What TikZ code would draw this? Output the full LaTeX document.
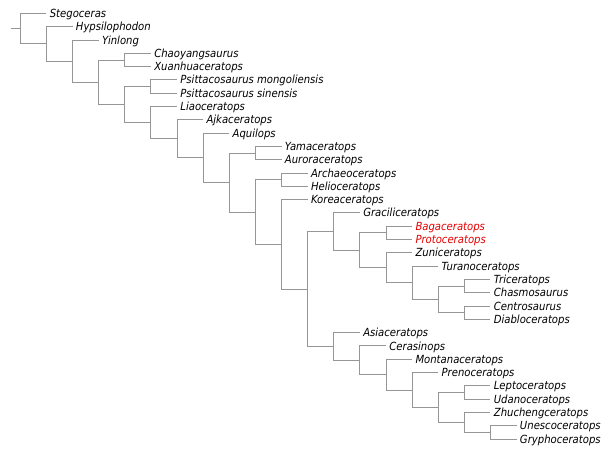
\documentclass[tikz,border=0pt]{standalone}
\usepackage{fontspec}
\newfontfamily\cladefont{DejaVu Sans Condensed Oblique}
\definecolor{branchc}{RGB}{150,150,150}
\definecolor{hilite}{RGB}{230,0,0}
\begin{document}
\begin{tikzpicture}[x=1pt,y=-1pt,
  declare function={cx(\d)=20.3+26.12*\d; cy(\r)=13.4+13.3*\r;},
  br/.style={draw=branchc, line width=0.85pt},
  taxon/.style={anchor=base west, inner sep=0pt, xshift=3.2pt, yshift=-4.1pt,
    font=\cladefont\fontsize{11.2}{13}\selectfont},
  hot/.style={text=hilite}]
\useasboundingbox (0,0) rectangle (610,454);
% internal nodes
\foreach \n/\d/\r in {root/0/1.1473, n1/1/2.294651, n2/2/3.589302, n3/3/5.178604,
  cx/4/3.5, n4/4/6.857208, ps/5/5.5, n5/5/8.2144165, n6/6/9.428833, n7/7/10.857666,
  n8/8/12.715332, ya/9/10.5, n9/9/14.930664, ah/10/12.5, n10/10/17.361328,
  n11/11/20.72265625, n12/12/16.40625, n14/13/17.8125, bp/14/16.5, n15/14/19.125,
  n16/15/20.25, n17/16/21.5, tc/17/20.5, cd/17/22.5, n13/12/25.0390625,
  n18/13/26.078125, n19/14/27.15625, n20/15/28.3125, n21/16/29.625, lu/17/28.5,
  n22/17/30.75, n23/18/31.5}
  \coordinate (\n) at ({cx(\d)},{cy(\r)});
\coordinate (base) at (11,{cy(1.1473)});
% leaves
\foreach \r/\d/\t in {0/1/Stegoceras, 1/2/Hypsilophodon, 2/3/Yinlong,
  3/5/Chaoyangsaurus, 4/5/Xuanhuaceratops, 5/6/Psittacosaurus mongoliensis,
  6/6/Psittacosaurus sinensis, 7/6/Liaoceratops, 8/7/Ajkaceratops, 9/8/Aquilops,
  10/10/Yamaceratops, 11/10/Auroraceratops, 12/11/Archaeoceratops,
  13/11/Helioceratops, 14/11/Koreaceratops, 15/13/Graciliceratops,
  18/15/Zuniceratops, 19/16/Turanoceratops, 20/18/Triceratops,
  21/18/Chasmosaurus, 22/18/Centrosaurus, 23/18/Diabloceratops,
  24/13/Asiaceratops, 25/14/Cerasinops, 26/15/Montanaceratops,
  27/16/Prenoceratops, 28/18/Leptoceratops, 29/18/Udanoceratops,
  30/18/Zhuchengceratops, 31/19/Unescoceratops, 32/19/Gryphoceratops}
{
  \coordinate (l\r) at ({cx(\d)},{cy(\r)});
  \node[taxon] (t\r) at (l\r) {\t};
}
\foreach \r/\d/\t in {16/15/Bagaceratops, 17/15/Protoceratops}
{
  \coordinate (l\r) at ({cx(\d)},{cy(\r)});
  \node[taxon,hot] (t\r) at (l\r) {\t};
}
% branches
\draw[br] (base) -- (root);
\foreach \p/\c in {root/l0, root/n1, n1/l1, n1/n2, n2/l2, n2/n3, n3/cx, n3/n4,
  cx/l3, cx/l4, n4/ps, n4/n5, ps/l5, ps/l6, n5/l7, n5/n6, n6/l8, n6/n7,
  n7/l9, n7/n8, n8/ya, n8/n9, ya/l10, ya/l11, n9/ah, n9/n10, ah/l12, ah/l13,
  n10/l14, n10/n11, n11/n12, n11/n13, n12/l15, n12/n14, n14/bp, n14/n15,
  bp/l16, bp/l17, n15/l18, n15/n16, n16/l19, n16/n17, n17/tc, n17/cd,
  tc/l20, tc/l21, cd/l22, cd/l23, n13/l24, n13/n18, n18/l25, n18/n19,
  n19/l26, n19/n20, n20/l27, n20/n21, n21/lu, n21/n22, lu/l28, lu/l29,
  n22/l30, n22/n23, n23/l31, n23/l32}
  \draw[br] (\p) |- (\c);
\end{tikzpicture}
\end{document}
